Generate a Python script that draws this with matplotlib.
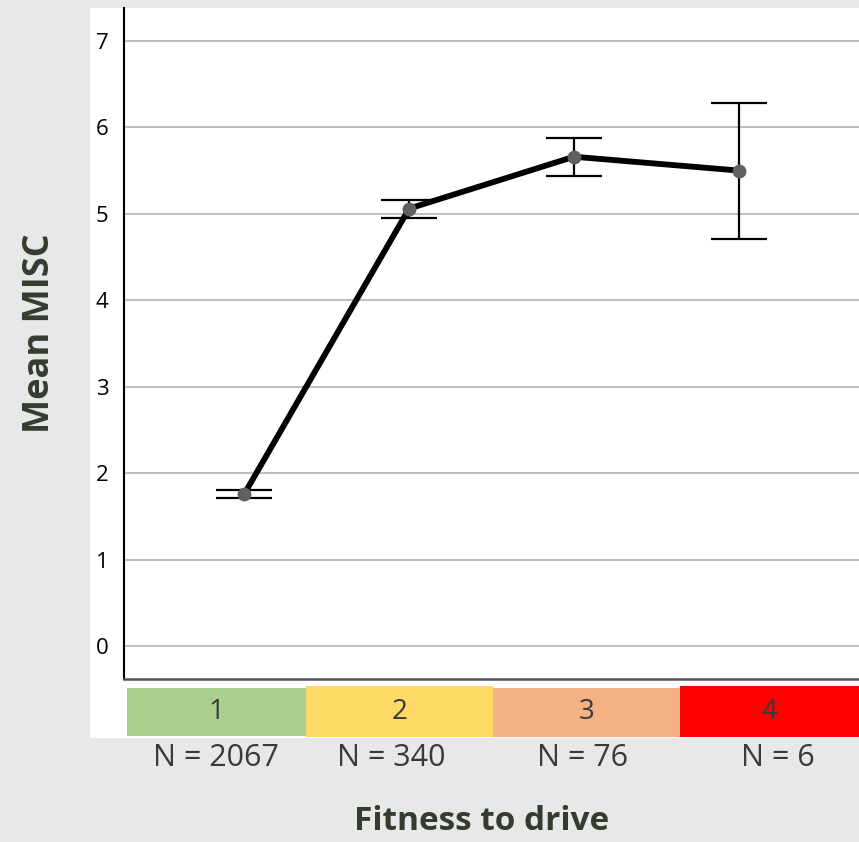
import matplotlib.pyplot as plt
from matplotlib.patches import Rectangle

# data
fitness = [1, 2, 3, 4]
mean_misc = [1.76, 5.06, 5.66, 5.50]
err_lo = [0.05, 0.11, 0.22, 0.79]
err_hi = [0.05, 0.10, 0.22, 0.78]
group_labels = ['1', '2', '3', '4']
group_n = ['N = 2067', 'N = 340', 'N = 76', 'N = 6']
group_colors = ['#a9d08e', '#ffd966', '#f4b183', '#ff0000']

plt.rcParams['font.family'] = ['Open Sans', 'DejaVu Sans']

W, H = 859, 842
fig = plt.figure(figsize=(W / 100, H / 100), dpi=100, facecolor='#e8e8e8')

# white panel behind the chart
fig.patches.append(Rectangle((90 / W, 1 - 738 / H), 1 - 90 / W, (738 - 8) / H,
                             transform=fig.transFigure, facecolor='white',
                             edgecolor='none', zorder=-5))

ax = fig.add_axes([124 / W, 1 - 679 / H, 1 - 124 / W, (679 - 8) / H])
ax.set_facecolor('white')

ax.errorbar(fitness, mean_misc, yerr=[err_lo, err_hi], fmt='none',
            ecolor='black', elinewidth=1.6, capsize=20, capthick=1.6, zorder=3)
ax.plot(fitness, mean_misc, color='black', lw=4.2, zorder=4)
ax.plot(fitness, mean_misc, 'o', color='#606060', ms=10, mec='none', zorder=5)

ax.set_xlim(0.27, 4.73)
ax.set_ylim(-0.38, 7.38)
ax.set_yticks(range(0, 8))
ax.set_xticks([])
ax.tick_params(axis='y', length=0, labelsize=16, pad=11)
ax.grid(axis='y', color='#c0c0c0', lw=1.5)
ax.set_axisbelow(True)
for s in ['top', 'right']:
    ax.spines[s].set_visible(False)
ax.spines['left'].set_color('black')
ax.spines['left'].set_linewidth(1.5)
ax.spines['bottom'].set_color('#555555')
ax.spines['bottom'].set_linewidth(1.8)

# coloured category boxes under the axis
edges = [0.004, 0.248, 0.502, 0.757, 1.0]
tops = [-0.0134, -0.0104, -0.0134, -0.0104]
bottoms = [-0.085, -0.0865, -0.0865, -0.0865]
for i in range(4):
    x0, x1 = edges[i], edges[i + 1]
    ax.add_patch(Rectangle((x0, bottoms[i]), x1 - x0, tops[i] - bottoms[i],
                           transform=ax.transAxes, facecolor=group_colors[i],
                           edgecolor='none', clip_on=False))
    ax.text((x0 + x1) / 2, -0.049, group_labels[i], transform=ax.transAxes,
            ha='center', va='center', fontsize=20, color='#3a3a3a')

n_x = [0.125, 0.363, 0.624, 0.89]
for x, lab in zip(n_x, group_n):
    ax.text(x, -0.118, lab, transform=ax.transAxes, ha='center', va='center',
            fontsize=22, color='#3a3a3a')

fig.text(482 / W, 1 - 822 / H, 'Fitness to drive', ha='center', va='center',
         fontsize=24, fontweight='bold', color='#333c2e')
fig.text(40 / W, 1 - 333 / H, 'Mean MISC', ha='center', va='center',
         rotation=90, fontsize=26, fontweight='bold', color='#333c2e')

fig.savefig('out.png', dpi=100, facecolor=fig.get_facecolor())
